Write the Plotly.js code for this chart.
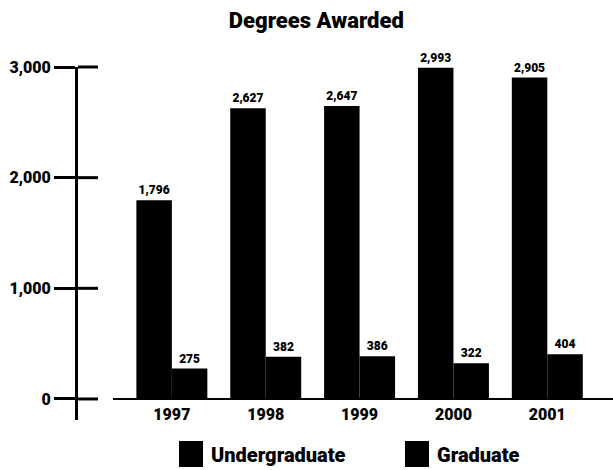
<!DOCTYPE html>
<html>
<head>
<meta charset="utf-8">
<script src="https://cdn.plot.ly/plotly-3.0.1.min.js"></script>
<style>html,body{margin:0;padding:0;background:#fff;}#chart{width:613px;height:470px;}</style>
</head>
<body>
<div id="chart"></div>
<script>
var years = ['1997', '1998', '1999', '2000', '2001'];
var undergraduate = [1796, 2627, 2647, 2993, 2905];
var graduate = [275, 382, 386, 322, 404];
var yTicks = [0, 1000, 2000, 3000];

var FONT = 'Roboto, "Liberation Sans", sans-serif';
var W = 900;
var yMin = -190, yMax = 3000;
var plotW = 613 - 78;
function py(v) { return (v - yMin) / (yMax - yMin); }
function fmt(v) { return v.toLocaleString('en-US'); }

var traces = [
  {
    type: 'bar', name: 'Undergraduate', x: years, y: undergraduate,
    text: undergraduate.map(fmt), textposition: 'outside', cliponaxis: false,
    textfont: {family: FONT, size: 12, color: '#000', weight: W},
    marker: {color: '#000', line: {width: 0}}, hoverinfo: 'skip'
  },
  {
    type: 'bar', name: 'Graduate', x: years, y: graduate,
    text: graduate.map(fmt), textposition: 'outside', cliponaxis: false,
    textfont: {family: FONT, size: 12, color: '#000', weight: W},
    marker: {color: '#000', line: {width: 0}}, hoverinfo: 'skip'
  }
];

var shapes = yTicks.map(function (v) {
  return {type: 'line', xref: 'paper', yref: 'paper', x0: 0, x1: 20 / plotW,
          y0: py(v), y1: py(v), line: {color: '#000', width: 3}};
});
shapes.push({type: 'line', xref: 'paper', yref: 'paper', x0: 35 / plotW, x1: 1,
             y0: py(0), y1: py(0), line: {color: '#000', width: 2}});

var layout = {
  width: 613, height: 470,
  margin: {l: 78, r: 0, t: 67, b: 50, autoexpand: false},
  paper_bgcolor: '#fff', plot_bgcolor: '#fff',
  font: {family: FONT, color: '#000', weight: W},
  title: {text: 'Degrees Awarded', x: 0.516, xanchor: 'center', y: 0.957, yanchor: 'middle',
          font: {family: FONT, size: 22, color: '#000', weight: W}},
  barmode: 'group', bargap: 0.244, bargroupgap: 0,
  xaxis: {
    type: 'category', range: [-1.0, 4.70], anchor: 'free', position: py(0),
    showline: false, showgrid: false, zeroline: false, ticks: '', ticklabelstandoff: 4,
    tickfont: {family: FONT, size: 16, color: '#000', weight: W}, fixedrange: true
  },
  yaxis: {
    range: [yMin, yMax], tickvals: yTicks, ticktext: yTicks.map(fmt),
    showline: true, linecolor: '#000', linewidth: 3,
    ticks: 'outside', ticklen: 21, tickwidth: 3, tickcolor: '#000',
    showgrid: false, zeroline: false,
    tickfont: {family: FONT, size: 16, color: '#000', weight: W}, fixedrange: true
  },
  showlegend: true,
  legend: {
    orientation: 'h', x: 93 / plotW, xanchor: 'left', y: -0.096, yanchor: 'middle',
    font: {family: FONT, size: 20, color: '#000', weight: W},
    entrywidth: 181, entrywidthmode: 'pixels', traceorder: 'normal'
  },
  shapes: shapes
};

Plotly.newPlot('chart', traces, layout, {displayModeBar: false, staticPlot: true}).then(function (gd) {
  var paths = gd.querySelectorAll('.legend .legendpoints path');
  paths.forEach(function (p) { p.setAttribute('d', 'M12,13H-12V-13H12Z'); p.style.strokeWidth = '0'; });
});
</script>
</body>
</html>
